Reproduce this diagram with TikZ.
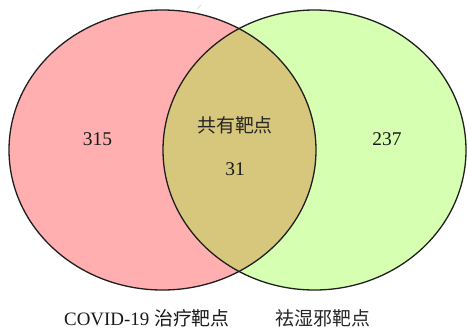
\documentclass[tikz,border=0pt]{standalone}
\usepackage{fontspec}
\setmainfont{Liberation Serif}
\newfontfamily\cjk{Noto Sans CJK SC}
\definecolor{setA}{RGB}{255,175,175}
\definecolor{setB}{RGB}{215,255,178}
\definecolor{setAB}{RGB}{215,199,124}
\definecolor{strayc}{RGB}{222,232,150}
\tikzset{
  setline/.style={draw=black!88, line width=1.3bp},
  numtxt/.style={font=\fontsize{19.5}{20}\selectfont, inner sep=0pt, text=black!90},
  cjktxt/.style={font=\fontsize{19}{20}\selectfont\cjk, inner sep=0pt, text=black!85},
  labtxt/.style={font=\fontsize{19}{20}\selectfont, inner sep=0pt, text=black!90}
}
\begin{document}
\begin{tikzpicture}[x=1bp,y=-1bp]
\useasboundingbox (0,0) rectangle (468,333);
\coordinate (cA) at (162.5,150);
\coordinate (cB) at (314.5,150);
% fills
\fill[setA] (cA) ellipse [x radius=153.5, y radius=140];
\fill[setB] (cB) ellipse [x radius=151.5, y radius=140];
\begin{scope}
  \clip (cA) ellipse [x radius=153.5, y radius=140];
  \fill[setAB] (cB) ellipse [x radius=151.5, y radius=140];
\end{scope}
% outlines
\draw[setline] (cA) ellipse [x radius=153.5, y radius=140];
\draw[setline] (cB) ellipse [x radius=151.5, y radius=140];
% stray mark
\draw[strayc, line width=1bp] (197,9) -- (201,5);
% texts
\node[numtxt] (nA) at (97.5,139.5) {315};
\node[numtxt] (nB) at (387,139.5) {237};
\node[cjktxt] (tAB) at (235,125.5) {共有靶点};
\node[numtxt] (nAB) at (235,169.5) {31};
\node[labtxt] (lA) at (147,318) {COVID-19 {\cjk 治疗靶点}};
\node[cjktxt] (lB) at (323,318) {祛湿邪靶点};
\end{tikzpicture}
\end{document}
